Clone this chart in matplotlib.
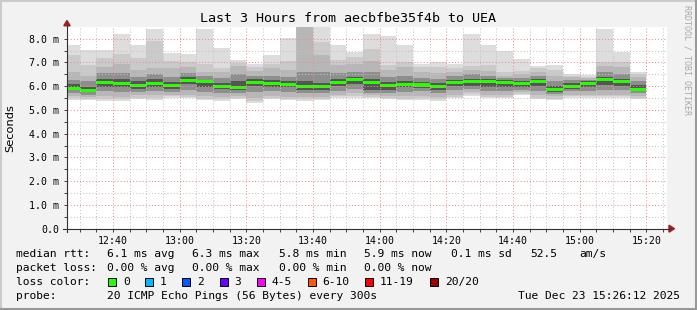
import pandas as pd
import matplotlib
matplotlib.use('Agg')
import matplotlib.pyplot as plt
import matplotlib.dates as mdates
from matplotlib.lines import Line2D
from matplotlib.patches import Polygon, Rectangle
from matplotlib.ticker import MultipleLocator, FuncFormatter

W, H = 697, 310
MONO = 'DejaVu Sans Mono'

# 5 minute steps, each value is the end of the step
step_end = pd.date_range('2025-12-23 12:30', periods=35, freq='5min')
t_start = pd.Timestamp('2025-12-23 12:26:12')
t_stop = pd.Timestamp('2025-12-23 15:26:12')

# sorted ping rtt (ms) per step
p1 = [5.43, 5.40, 5.37, 5.37, 5.46, 5.40, 5.52, 5.49, 5.40, 5.37, 5.46, 5.29,
      5.46, 5.40, 5.37, 5.40, 5.52, 5.52, 5.49, 5.46, 5.40, 5.42, 5.37, 5.50,
      5.60, 5.50, 5.50, 5.63, 5.45, 5.40, 5.52, 5.52, 5.52, 5.52, 5.46]
p2 = [5.50, 5.47, 5.45, 5.45, 5.52, 5.50, 5.58, 5.56, 5.48, 5.45, 5.52, 5.38,
      5.52, 5.47, 5.45, 5.48, 5.58, 5.60, 5.55, 5.52, 5.48, 5.50, 5.45, 5.56,
      5.66, 5.56, 5.56, 5.68, 5.52, 5.48, 5.58, 5.58, 5.58, 5.58, 5.52]
p3 = [5.58, 5.55, 5.58, 5.55, 5.62, 5.62, 5.65, 5.65, 5.58, 5.55, 5.60, 5.50,
      5.60, 5.55, 5.55, 5.55, 5.65, 5.70, 5.62, 5.60, 5.58, 5.60, 5.55, 5.65,
      5.75, 5.65, 5.65, 5.75, 5.62, 5.58, 5.65, 5.65, 5.65, 5.65, 5.60]
p5 = [5.70, 5.65, 5.78, 5.75, 5.75, 5.80, 5.75, 5.85, 5.75, 5.70, 5.72, 5.75,
      5.80, 5.75, 5.72, 5.70, 5.80, 5.90, 5.72, 5.72, 5.75, 5.78, 5.72, 5.82,
      5.88, 5.80, 5.80, 5.85, 5.80, 5.68, 5.78, 5.80, 5.85, 5.82, 5.70]
p7 = [5.82, 5.74, 5.95, 5.95, 5.90, 5.98, 5.88, 6.08, 5.95, 5.88, 5.85, 6.00,
      5.98, 5.95, 5.85, 5.85, 6.00, 6.10, 5.85, 5.85, 5.95, 5.92, 5.85, 6.00,
      6.02, 5.98, 5.98, 5.95, 6.00, 5.75, 5.90, 5.95, 6.05, 6.00, 5.78]
median = [5.92, 5.82, 6.15, 6.10, 6.03, 6.13, 6.02, 6.25, 6.18, 6.00, 5.96, 6.16,
          6.12, 6.08, 6.00, 6.00, 6.16, 6.29, 6.16, 6.02, 6.09, 6.05, 5.98, 6.16,
          6.18, 6.19, 6.15, 6.10, 6.20, 5.85, 6.00, 6.12, 6.30, 6.18, 5.88]
p14 = [6.08, 5.98, 6.30, 6.30, 6.20, 6.30, 6.18, 6.40, 6.28, 6.15, 6.20, 6.30,
       6.25, 6.20, 6.20, 6.15, 6.30, 6.40, 6.30, 6.18, 6.22, 6.18, 6.12, 6.28,
       6.30, 6.30, 6.25, 6.22, 6.30, 6.00, 6.12, 6.20, 6.40, 6.30, 6.05]
p16 = [6.25, 6.20, 6.55, 6.55, 6.40, 6.50, 6.40, 6.55, 6.45, 6.35, 6.50, 6.45,
       6.45, 6.40, 6.60, 6.60, 6.55, 6.60, 6.60, 6.40, 6.45, 6.35, 6.30, 6.42,
       6.50, 6.45, 6.35, 6.35, 6.45, 6.20, 6.25, 6.28, 6.60, 6.50, 6.20]
p18 = [6.60, 6.45, 6.80, 6.92, 6.67, 6.76, 6.75, 6.80, 6.60, 6.60, 6.85, 6.65,
       6.75, 6.70, 8.70, 7.30, 6.90, 6.95, 7.06, 6.70, 6.80, 6.60, 6.55, 6.60,
       6.70, 6.65, 6.45, 6.50, 6.60, 6.45, 6.38, 6.35, 6.85, 6.80, 6.40]
p19 = [7.30, 6.88, 7.19, 7.37, 7.19, 7.89, 7.05, 7.00, 6.95, 6.75, 6.98, 6.80,
       6.95, 7.05, 8.90, 7.85, 7.12, 7.23, 7.55, 6.90, 7.02, 6.80, 6.80, 6.75,
       6.84, 6.88, 6.60, 6.65, 6.75, 6.70, 6.45, 6.40, 7.00, 7.00, 6.50]
p20 = [7.75, 7.54, 7.54, 8.20, 7.72, 8.42, 7.38, 7.34, 8.42, 7.62, 7.10, 6.92,
       7.30, 8.04, 9.00, 8.80, 7.72, 7.44, 8.18, 8.10, 7.72, 6.92, 7.00, 6.92,
       8.18, 7.72, 7.48, 7.13, 6.83, 6.88, 6.53, 6.46, 8.39, 7.44, 6.58]

# smoke bands: outer pair first, darker pairs on top
bands = [(p1, p20, '#dddddd'), (p2, p19, '#cacaca'), (p3, p18, '#b7b7b7'),
         (p5, p16, '#8e8e8e'), (p7, p14, '#555555')]

loss_labels = ['0', '1', '2', '3', '4-5', '6-10', '11-19', '20/20']
loss_colors = ['#26ff00', '#00b8ff', '#0059ff', '#6a00ff', '#ff00ff',
               '#ff5a00', '#ff0000', '#a00000']


def fp(x, y):
    return x / W, 1 - y / H


fig = plt.figure(figsize=(W / 100, H / 100), dpi=100, facecolor='#f2f2f2')
ax = fig.add_axes([67 / W, 1 - 228.7 / H, 600 / W, (228.7 - 27.3) / H])
ax.set_facecolor('white')

left = step_end - pd.Timedelta(minutes=5)
width = 5 / 1440
for lo, hi, col in bands:
    ax.bar(left, [h - l for l, h in zip(lo, hi)], bottom=lo, width=width,
           align='edge', color=col, linewidth=0, zorder=1)
ax.bar(left, 0.13, bottom=[m - 0.065 for m in median], width=width,
       align='edge', color=loss_colors[0], linewidth=0, zorder=1.5)

ax.set_xlim(t_start, t_stop)
ax.set_ylim(0, 8.48)
ax.xaxis.set_major_locator(mdates.MinuteLocator(byminute=[0, 20, 40]))
ax.xaxis.set_minor_locator(mdates.MinuteLocator(byminute=range(0, 60, 5)))
ax.xaxis.set_major_formatter(mdates.DateFormatter('%H:%M'))
ax.yaxis.set_major_locator(MultipleLocator(1.0))
ax.yaxis.set_minor_locator(MultipleLocator(0.5))
ax.yaxis.set_major_formatter(FuncFormatter(lambda v, p: '0.0' if v == 0 else '%.1f m' % v))

ax.set_axisbelow(False)
ax.grid(which='major', color='#e89090', linestyle=(0, (1, 2)), linewidth=0.75)
ax.grid(which='minor', color='#c4c4c4', linestyle=(0, (1, 2)), linewidth=0.75)
for s in ax.spines.values():
    s.set_visible(False)
ax.tick_params(which='both', direction='out', color='#404040', width=0.7,
               length=2, labelsize=7.1)
ax.tick_params(axis='y', pad=3.5)
ax.tick_params(axis='x', pad=3)
for lab in ax.get_xticklabels() + ax.get_yticklabels():
    lab.set_family(MONO)

# axes with arrows
fig.add_artist(Line2D([63 / W, 670 / W], [1 - 228.7 / H] * 2, color='#303030', lw=0.8))
fig.add_artist(Line2D([67 / W] * 2, [1 - 232 / H, 1 - 25 / H], color='#303030', lw=0.8))
fig.add_artist(Polygon([fp(669, 225.2), fp(669, 232.2), fp(674.5, 228.7)],
                       closed=True, color='#a02020', transform=fig.transFigure))
fig.add_artist(Polygon([fp(63.8, 25.8), fp(70.2, 25.8), fp(67, 20.5)],
                       closed=True, color='#a02020', transform=fig.transFigure))

# frame shading
fig.add_artist(Line2D([0, 1], [1 - 1 / H] * 2, color='#cbcbcb', lw=1.5))
fig.add_artist(Line2D([1 / W] * 2, [0, 1], color='#cbcbcb', lw=1.5))
fig.add_artist(Line2D([0, 1], [1 / H] * 2, color='#999999', lw=1.5))
fig.add_artist(Line2D([1 - 1 / W] * 2, [0, 1], color='#999999', lw=1.5))

fig.text(*fp(348, 19), 'Last 3 Hours from aecbfbe35f4b to UEA', ha='center',
         va='center', family=MONO, fontsize=9.6)
fig.text(*fp(10, 128), 'Seconds', rotation=90, ha='center', va='center',
         family='DejaVu Sans', fontsize=8.2)
fig.text(*fp(687.5, 5), 'RRDTOOL / TOBI OETIKER', rotation=270, ha='center',
         va='top', family=MONO, fontsize=6, color='#a8a8a8')

# legend block
row_y = [254, 268, 282, 296]
txt = dict(family=MONO, fontsize=8.1, va='center', ha='left')
fig.text(*fp(16, row_y[0]), 'median rtt:', **txt)
for x, s in zip([107, 192.4, 279, 364.4, 451, 529.8, 579],
                ['6.1 ms avg', '6.3 ms max', '5.8 ms min', '5.9 ms now',
                 '0.1 ms sd', '52.5', 'am/s']):
    fig.text(*fp(x, row_y[0]), s, **txt)
fig.text(*fp(16, row_y[1]), 'packet loss:', **txt)
for x, s in zip([107, 192.4, 279, 364.4],
                ['0.00 % avg', '0.00 % max', '0.00 % min', '0.00 % now']):
    fig.text(*fp(x, row_y[1]), s, **txt)
fig.text(*fp(16, row_y[2]), 'loss color:', **txt)
box_x = [108.4, 145.3, 182.2, 219.6, 256.9, 307.6, 365.3, 430.2]
for bx, lab, col in zip(box_x, loss_labels, loss_colors):
    fig.add_artist(Rectangle(fp(bx, row_y[2] + 4), 8 / W, 8 / H, facecolor=col,
                             edgecolor='black', lw=0.7, transform=fig.transFigure))
    fig.text(*fp(bx + 14.6, row_y[2]), lab, **txt)
fig.text(*fp(16, row_y[3]), 'probe:', **txt)
fig.text(*fp(107, row_y[3]), '20 ICMP Echo Pings (56 Bytes) every 300s', **txt)
fig.text(*fp(680, row_y[3]), 'Tue Dec 23 15:26:12 2025',
         **{**txt, 'ha': 'right'})

fig.savefig('out.png', dpi=100, facecolor=fig.get_facecolor())
